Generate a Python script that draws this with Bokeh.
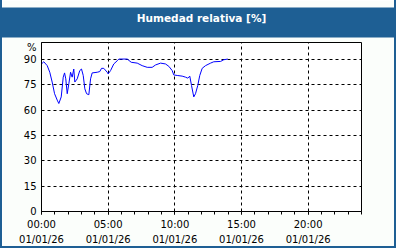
from bokeh.plotting import figure
from bokeh.models import FixedTicker, Range1d
from bokeh.embed import file_html
from bokeh.resources import INLINE

title_text = "Humedad relativa [%]"
unit_label = "%"

hours = [0.0, 0.17, 0.43, 0.62, 0.80, 0.98, 1.18, 1.30, 1.48, 1.63, 1.73, 1.82,
         1.93, 2.05, 2.18, 2.30, 2.42, 2.50, 2.68, 2.87, 3.00, 3.13, 3.25, 3.38,
         3.55, 3.68, 3.80, 4.18, 4.37, 4.50, 4.67, 4.93, 5.00, 5.18, 5.42, 5.68,
         5.80, 6.43, 6.73, 7.18, 7.55, 7.93, 8.30, 8.55, 8.93, 9.30, 9.55, 9.80,
         9.92, 10.18, 10.55, 10.80, 10.97, 11.12, 11.25, 11.42, 11.55, 11.72,
         11.87, 12.05, 12.30, 12.68, 12.92, 13.43, 13.67, 13.97]
humidity = [87.3, 88.6, 86.3, 82.4, 76.6, 69.7, 65.9, 63.9, 67.8, 79.5, 82.0, 78.5,
            69.7, 75.6, 82.4, 79.5, 84.3, 76.6, 78.5, 83.4, 84.3, 80.5, 72.6, 69.7,
            69.1, 78.5, 82.0, 82.4, 82.8, 84.7, 84.7, 82.4, 81.4, 83.4, 87.3, 89.2,
            90.2, 90.2, 88.3, 87.8, 86.3, 85.3, 85.3, 86.7, 87.8, 87.3, 85.9, 83.4,
            80.8, 80.5, 80.1, 79.5, 78.9, 80.1, 74.6, 67.8, 69.7, 74.6, 80.5, 84.7,
            86.3, 87.8, 88.6, 88.8, 89.8, 90.2]

x_ticks = [0, 5, 10, 15, 20]
x_tick_labels = ["00:00\n01/01/26", "05:00\n01/01/26", "10:00\n01/01/26",
                 "15:00\n01/01/26", "20:00\n01/01/26"]
x_minor = list(range(0, 25))
y_ticks = [0, 15, 30, 45, 60, 75, 90]
unit_pos = 97

BLUE = "#1e5f94"
BG = "#fbfefb"
FONT = "DejaVu Sans"

# canvas is 396 x 248; CSS borders make the page 400 x 250
p = figure(width=396, height=248, output_backend="svg", toolbar_location=None,
           x_range=Range1d(0, 24), y_range=Range1d(0, 100),
           min_border_left=39, min_border_right=37,
           min_border_top=40, min_border_bottom=37)
p.styles = {"border-left": f"2px solid {BLUE}", "border-right": f"2px solid {BLUE}",
            "border-bottom": f"2px solid {BLUE}"}
p.background_fill_color = "#ffffff"
p.border_fill_color = BG
p.outline_line_color = "black"
p.outline_line_width = 1

p.title.text = title_text
p.title.align = "center"
p.title.text_color = "white"
p.title.text_font = FONT
p.title.text_font_style = "bold"
p.title.text_font_size = "10.5px"
p.title.background_fill_color = BLUE
p.title.padding = dict(left=250, right=250, top=4, bottom=14)
p.title.standoff = 10

xt = FixedTicker(ticks=x_ticks, minor_ticks=x_minor)
p.xaxis.ticker = xt
p.xaxis.major_label_overrides = {t: l for t, l in zip(x_ticks, x_tick_labels)}
p.xaxis.major_tick_in = 0
p.xaxis.major_tick_out = 3
p.xaxis.minor_tick_in = 0
p.xaxis.minor_tick_out = 3
p.xaxis.major_label_standoff = 4
p.xaxis.major_label_text_line_height = 1.45

p.yaxis.ticker = FixedTicker(ticks=y_ticks + [unit_pos], minor_ticks=[])
p.yaxis.major_label_overrides = {unit_pos: unit_label}
p.yaxis.major_tick_in = 0
p.yaxis.major_tick_out = 0
p.yaxis.minor_tick_in = 0
p.yaxis.minor_tick_out = 0
p.yaxis.major_label_standoff = 5

for ax in (p.xaxis, p.yaxis):
    ax.axis_line_color = "black"
    ax.major_tick_line_color = "black"
    ax.minor_tick_line_color = "black"
    ax.major_label_text_font = FONT
    ax.major_label_text_font_size = "10px"
    ax.major_label_text_color = "#000000"

p.xgrid.ticker = xt
p.ygrid.ticker = FixedTicker(ticks=y_ticks, minor_ticks=[])
for g in (p.xgrid, p.ygrid):
    g.grid_line_color = "black"
    g.grid_line_dash = "3 3"
    g.grid_line_width = 1

p.line(hours, humidity, line_color="#0000ff", line_width=1)

open("out.html", "w").write(file_html(p, INLINE))
